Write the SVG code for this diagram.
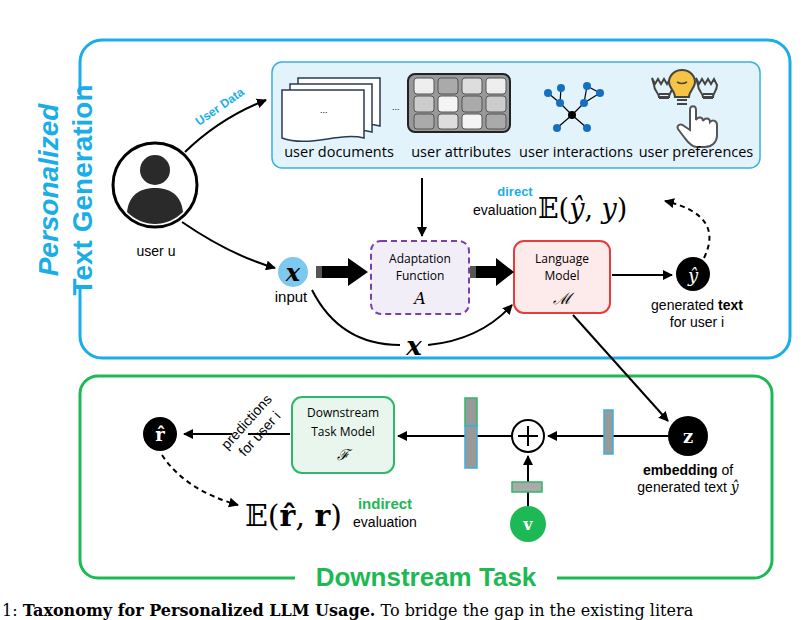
<svg xmlns="http://www.w3.org/2000/svg" width="810" height="620" viewBox="0 0 810 620">
<defs>
<marker id="ah" viewBox="0 0 10 10" refX="9" refY="5" markerWidth="5" markerHeight="5" orient="auto"><path d="M0,0L10,5L0,10z" fill="#000"/></marker>
<style>
.s{font-family:"Liberation Sans",Arial,sans-serif}
.o{font-family:"Open Sans","Liberation Sans",sans-serif}
.m{font-family:"DejaVu Serif","Liberation Serif",serif}
.ln{stroke:#000;stroke-width:2;fill:none}
.dash{stroke:#000;stroke-width:2;fill:none;stroke-dasharray:5,4}
.bar{stroke:#3ab0e0;stroke-width:1.5;fill:#999}
</style>
</defs>
<rect width="810" height="620" fill="#fff"/>
<g id="frame-top"><rect x="80" y="40" width="710" height="318" rx="22" fill="none" stroke="#1aaee8" stroke-width="3"/>
<rect x="70" y="95" width="26" height="190" fill="#fff"/>
<text transform="translate(58,190) rotate(-90)" text-anchor="middle" class="s" font-size="28" font-weight="bold" font-style="italic" fill="#1aaee8">Personalized</text>
<text transform="translate(92,190) rotate(-90)" text-anchor="middle" class="s" font-size="28" font-weight="bold" fill="#1aaee8">Text Generation</text></g>
<g id="frame-bottom"><rect x="80" y="376" width="692" height="202" rx="18" fill="none" stroke="#1db954" stroke-width="3"/>
<rect x="295" y="562" width="262" height="30" fill="#fff"/>
<text x="426" y="586" text-anchor="middle" class="s" font-size="26" font-weight="bold" fill="#1db954">Downstream Task</text></g>
<g id="userdata"><rect x="272" y="62" width="488" height="106" rx="10" fill="#e3f3fb" stroke="#3ab0e0" stroke-width="1.5"/>
<g fill="#fff" stroke="#2a3a55" stroke-width="1.5"><path d="M298,78h82v48c-25,-6 -55,10 -82,0z"/><path d="M290,84h82v48c-25,-6 -55,10 -82,0z"/><path d="M282,90h82v48c-25,-6 -55,10 -82,0z"/></g>
<text x="320" y="113" class="s" font-size="9">...</text><text x="392" y="110" class="s" font-size="9">...</text>
<rect x="408" y="74" width="102" height="58" rx="7" fill="#999" stroke="#222" stroke-width="2"/>
<g stroke="#555" stroke-width="1"><rect x="414" y="78" width="20" height="16" rx="3" fill="#eee"/><rect x="438" y="78" width="20" height="16" rx="3" fill="#aaa"/><rect x="462" y="78" width="20" height="16" rx="3" fill="#ddd"/><rect x="486" y="78" width="20" height="16" rx="3" fill="#eee"/>
<rect x="414" y="96" width="20" height="16" rx="3" fill="#ccc"/><rect x="438" y="96" width="20" height="16" rx="3" fill="#f4f4f4"/><rect x="462" y="96" width="20" height="16" rx="3" fill="#aaa"/><rect x="486" y="96" width="20" height="16" rx="3" fill="#ccc"/>
<rect x="414" y="114" width="20" height="15" rx="3" fill="#aaa"/><rect x="438" y="114" width="20" height="15" rx="3" fill="#ddd"/><rect x="462" y="114" width="20" height="15" rx="3" fill="#f4f4f4"/><rect x="486" y="114" width="20" height="15" rx="3" fill="#aaa"/></g>
<g stroke="#000" stroke-width="1.2"><line x1="572" y1="115" x2="560" y2="103"/><line x1="572" y1="115" x2="584" y2="103"/><line x1="572" y1="115" x2="557" y2="128"/><line x1="572" y1="115" x2="587" y2="128"/><line x1="560" y1="103" x2="548" y2="93"/><line x1="560" y1="103" x2="561" y2="88"/><line x1="584" y1="103" x2="587" y2="86"/><line x1="587" y1="86" x2="600" y2="93"/><line x1="600" y1="93" x2="584" y2="103"/></g>
<g fill="#1470c0"><circle cx="560" cy="103" r="4"/><circle cx="584" cy="103" r="4"/><circle cx="557" cy="128" r="4"/><circle cx="587" cy="128" r="4"/><circle cx="548" cy="93" r="4"/><circle cx="561" cy="88" r="4"/><circle cx="587" cy="86" r="4"/><circle cx="600" cy="93" r="4"/></g><circle cx="572" cy="115" r="4" fill="#000"/>
<g stroke="#444" stroke-width="2" fill="none"><path d="M652,78l3,6l3,-5l3,5l3,-5l3,5l3,-5l3,6c0,6 -4,8 -4,12h-10c0,-4 -5,-6 -5,-12z"/><path d="M696,78l3,6l3,-5l3,5l3,-5l3,5l3,-5l3,6c0,6 -4,8 -4,12h-10c0,-4 -5,-6 -5,-12z"/><path d="M659,94h10M659,98h10M703,94h10M703,98h10M677,100h10M677,104h10"/></g>
<path d="M682,70c-8,0 -13,6 -13,12c0,6 6,9 6,15h14c0,-6 6,-9 6,-15c0,-6 -5,-12 -13,-12z" fill="#f6c445" stroke="#444" stroke-width="2"/><path d="M677,82q5,3 10,0" stroke="#444" stroke-width="1.5" fill="none"/>
<path d="M690,130v-20c0,-5 6,-5 6,0v10c2,-4 7,-3 7,1c2,-4 7,-3 7,1c3,-3 7,-1 7,3v10c0,8 -6,12 -12,12h-8c-6,0 -10,-6 -13,-10l-6,-8c-2,-4 3,-6 6,-3z" fill="#fff" stroke="#555" stroke-width="2"/>
<g class="o" font-size="14.5" text-anchor="middle"><text x="339" y="157">user documents</text><text x="461" y="157">user attributes</text><text x="576" y="157">user interactions</text><text x="696" y="157">user preferences</text></g></g>
<g id="user"><circle cx="155" cy="185" r="42" fill="#fff" stroke="#000" stroke-width="3"/><circle cx="155" cy="170" r="15" fill="#2a2a2a"/><path d="M127,212c2,-18 14,-24 28,-24s26,6 28,24c-8,8 -18,12 -28,12s-20,-4 -28,-12z" fill="#2a2a2a"/>
<text x="156" y="256" class="s" font-size="14" text-anchor="middle">user u</text>
<text transform="translate(222,110) rotate(-35)" class="s" font-size="12" font-weight="bold" fill="#1aaee8" text-anchor="middle">User Data</text></g>
<g id="input"><circle cx="293" cy="272" r="15" fill="#7cc8ee"/><text x="293" y="281" class="m" font-size="24" font-weight="bold" font-style="italic" text-anchor="middle">x</text><text x="291" y="302" class="s" font-size="15" text-anchor="middle">input</text></g>
<g id="adapt"><rect x="371" y="241" width="98" height="73" rx="10" fill="#f2eef8" stroke="#7a3fa8" stroke-width="2" stroke-dasharray="6,4"/><text x="420" y="263" class="o" font-size="12" text-anchor="middle">Adaptation</text><text x="420" y="280" class="o" font-size="12" text-anchor="middle">Function</text><text x="420" y="304" class="m" font-size="16" font-style="italic" text-anchor="middle">A</text></g>
<g id="lm"><rect x="514" y="241" width="96" height="72" rx="10" fill="#fdeaea" stroke="#e83c3c" stroke-width="2"/><text x="562" y="263" class="o" font-size="12" text-anchor="middle">Language</text><text x="562" y="280" class="o" font-size="12" text-anchor="middle">Model</text><text x="562" y="304" class="m" font-size="16" font-style="italic" text-anchor="middle">ℳ</text></g>
<g id="yhat"><circle cx="693" cy="274" r="17" fill="#000"/><text x="693" y="282" class="m" font-size="18" font-style="italic" fill="#fff" text-anchor="middle">ŷ</text><text x="697" y="310" class="s" font-size="14" text-anchor="middle">generated <tspan font-weight="bold">text</tspan></text><text x="697" y="327" class="s" font-size="14" text-anchor="middle">for user i</text></g>
<g id="direct"><text x="515" y="196" class="s" font-size="13" font-weight="bold" fill="#1aaee8" text-anchor="middle">direct</text><text x="505" y="215" class="s" font-size="14" text-anchor="middle">evaluation</text><text x="538" y="218" class="m" font-size="27">𝔼(<tspan font-style="italic">ŷ</tspan>, <tspan font-style="italic">y</tspan>)</text></g>
<g id="z"><circle cx="688" cy="436" r="20" fill="#000"/><text x="688" y="443" class="m" font-size="18" font-weight="bold" fill="#fff" text-anchor="middle">z</text><text x="688" y="475" class="s" font-size="14" text-anchor="middle"><tspan font-weight="bold">embedding</tspan> of</text><text x="688" y="492" class="s" font-size="14" text-anchor="middle">generated text <tspan class="m" font-style="italic">ŷ</tspan></text></g>
<g id="plus"><circle cx="528" cy="436" r="16" fill="#fff" stroke="#000" stroke-width="2"/><path d="M518,436h20M528,426v20" stroke="#000" stroke-width="2"/></g>
<g id="v"><circle cx="528" cy="524" r="18" fill="#1db954"/><text x="528" y="530" class="m" font-size="16" font-weight="bold" fill="#fff" text-anchor="middle">v</text></g>
<g id="dtm"><rect x="292" y="397" width="102" height="76" rx="10" fill="#e8f6ee" stroke="#2db86a" stroke-width="2"/><text x="343" y="417" class="o" font-size="12" text-anchor="middle">Downstream</text><text x="343" y="436" class="o" font-size="12" text-anchor="middle">Task Model</text><text x="343" y="460" class="m" font-size="15" font-style="italic" text-anchor="middle">ℱ</text></g>
<g id="rhat"><circle cx="160" cy="434" r="17" fill="#000"/><text x="160" y="441" class="m" font-size="18" font-weight="bold" fill="#fff" text-anchor="middle">r̂</text>
<text transform="translate(250,425) rotate(-48)" class="s" font-size="14" text-anchor="middle">predictions</text><text transform="translate(263,437) rotate(-48)" class="s" font-size="14" text-anchor="middle">for user i</text></g>
<g id="indirect"><text x="245" y="526" class="m" font-size="30">𝔼(<tspan font-weight="bold">r̂</tspan>, <tspan font-weight="bold">r</tspan>)</text><text x="385" y="509" class="s" font-size="15" font-weight="bold" fill="#1db954" text-anchor="middle">indirect</text><text x="385" y="527" class="s" font-size="14" text-anchor="middle">evaluation</text></g>
<g id="connectors">
<path class="ln" d="M185,152Q220,118 266,100" marker-end="url(#ah)"/>
<path class="ln" d="M182,222Q230,255 275,268" marker-end="url(#ah)"/>
<path class="ln" d="M422,178V236" marker-end="url(#ah)"/>
<rect x="316" y="266" width="6" height="12" fill="#555"/><path d="M322,266h26v-8l20,14l-20,14v-8h-26z" fill="#000"/>
<rect x="470" y="266" width="6" height="12" fill="#555"/><path d="M476,266h20v-8l18,14l-18,14v-8h-20z" fill="#000"/>
<path class="ln" d="M312,290Q340,345 400,345M428,345Q480,340 512,305" marker-end="url(#ah)"/>
<text x="414" y="355" class="m" font-size="26" font-weight="bold" font-style="italic" text-anchor="middle">x</text>
<path class="ln" d="M612,275H672" marker-end="url(#ah)"/>
<path class="dash" d="M704,258Q725,215 665,201" marker-end="url(#ah)"/>
<path class="ln" d="M573,315L668,421" marker-end="url(#ah)"/>
<path class="ln" d="M668,436H548" marker-end="url(#ah)"/>
<rect x="604" y="410" width="9" height="44" class="bar"/>
<path class="ln" d="M512,436H398" marker-end="url(#ah)"/>
<rect x="465" y="398" width="12" height="28" fill="#999" stroke="#2db86a" stroke-width="1.5"/><rect x="465" y="426" width="12" height="42" class="bar"/>
<path class="ln" d="M528,506V456" marker-end="url(#ah)"/>
<rect x="512" y="482" width="30" height="10" fill="#aaa" stroke="#2db86a" stroke-width="1.5"/>
<path class="ln" d="M290,434H248M232,434H184" marker-end="url(#ah)"/>
<path class="dash" d="M162,455Q185,490 238,505" marker-end="url(#ah)"/>
</g>
<text x="2" y="616" class="m" font-size="16">1: <tspan font-weight="bold">Taxonomy for Personalized LLM Usage.</tspan> To bridge the gap in the existing litera</text>
</svg>
